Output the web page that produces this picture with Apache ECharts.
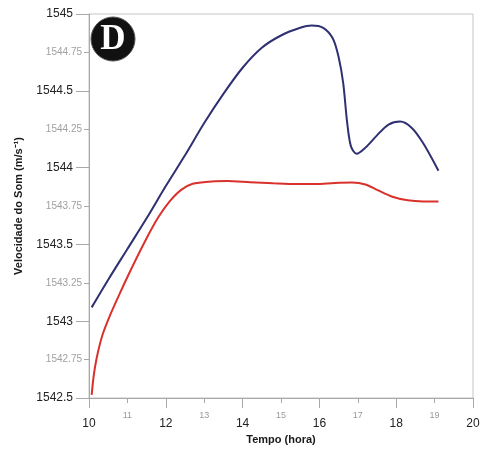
<!DOCTYPE html>
<html>
<head>
<meta charset="utf-8">
<script src="https://cdn.jsdelivr.net/npm/echarts@6/dist/echarts.min.js"></script>
<style>html,body{margin:0;padding:0;background:#fff}#c{width:495px;height:453px}</style>
</head>
<body>
<div id="c"></div>
<script>
const blueHours = [10.07, 10.5, 11, 11.5, 12, 12.5, 13, 13.5, 14, 14.5, 15, 15.5, 15.8, 16.1, 16.35, 16.5, 16.62, 16.72, 16.82, 16.97, 17.2, 17.5, 17.8, 18.1, 18.4, 18.7, 19.1];
const blueValues = [1543.09, 1543.27, 1543.47, 1543.67, 1543.88, 1544.08, 1544.29, 1544.48, 1544.65, 1544.78, 1544.86, 1544.91, 1544.925, 1544.91, 1544.84, 1544.72, 1544.55, 1544.30, 1544.14, 1544.09, 1544.13, 1544.21, 1544.28, 1544.30, 1544.26, 1544.16, 1543.98];
const redHours = [10.07, 10.12, 10.2, 10.35, 10.55, 10.8, 11.1, 11.5, 11.8, 12.1, 12.4, 12.7, 13.2, 13.6, 14.2, 14.8, 15.4, 15.9, 16.4, 16.85, 17.2, 17.5, 17.9, 18.3, 18.7, 19.1];
const redValues = [1542.52, 1542.64, 1542.76, 1542.91, 1543.04, 1543.18, 1543.34, 1543.54, 1543.675, 1543.78, 1543.855, 1543.895, 1543.91, 1543.913, 1543.905, 1543.898, 1543.893, 1543.893, 1543.90, 1543.903, 1543.89, 1543.855, 1543.81, 1543.787, 1543.78, 1543.78];
const xMajorTicks = [10, 12, 14, 16, 18, 20];
const xMinorTicks = [11, 13, 15, 17, 19];
const yMajorTicks = [1542.5, 1543, 1543.5, 1544, 1544.5, 1545];
const yMinorTicks = [1542.75, 1543.25, 1543.75, 1544.25, 1544.75];
const xTitle = 'Tempo (hora)';
const yTitle = 'Velocidade do Som (m/s\u207B\u00B9)';
const panelLabel = 'D';

const pair = (xs, ys) => xs.map((x, i) => [x, ys[i]]);
const near = (arr, v) => arr.some(a => Math.abs(a - v) < 1e-6);
const font = 'Liberation Sans';
const axisLineGray = '#a8a8a8';

const chart = echarts.init(document.getElementById('c'), null, {renderer: 'canvas'});
chart.setOption({
  backgroundColor: '#fff',
  animation: false,
  grid: {left: 89, top: 14, right: 22, bottom: 55, show: true, borderColor: '#c4c4c4', borderWidth: 1},
  xAxis: [
    {
      type: 'value', min: 10, max: 20, interval: 2, position: 'bottom',
      name: xTitle, nameLocation: 'middle', nameGap: 27,
      nameTextStyle: {fontFamily: font, fontSize: 11, fontWeight: 'bold', color: '#1a1a1a'},
      axisLine: {show: true, lineStyle: {color: axisLineGray, width: 1}},
      axisTick: {show: true, length: 10, lineStyle: {color: axisLineGray}},
      axisLabel: {margin: 20, fontFamily: font, fontSize: 12, color: '#222',
        formatter: v => near(xMajorTicks, v) ? String(v) : ''},
      splitLine: {show: false}
    },
    {
      type: 'value', min: 10, max: 20, interval: 1, position: 'bottom', gridIndex: 0,
      axisLine: {show: false},
      axisTick: {show: true, length: 5, lineStyle: {color: axisLineGray}},
      axisLabel: {margin: 13, fontFamily: font, fontSize: 9, color: '#9a9a9a',
        formatter: v => near(xMinorTicks, v) ? String(v) : ''},
      splitLine: {show: false}
    }
  ],
  yAxis: [
    {
      type: 'value', min: 1542.5, max: 1545, interval: 0.5, position: 'left',
      name: yTitle, nameLocation: 'middle', nameGap: 65, nameRotate: 90,
      nameTextStyle: {fontFamily: font, fontSize: 11, fontWeight: 'bold', color: '#1a1a1a'},
      axisLine: {show: true, lineStyle: {color: axisLineGray, width: 1}},
      axisTick: {show: true, length: 13, lineStyle: {color: axisLineGray}},
      axisLabel: {margin: 16, fontFamily: font, fontSize: 12, color: '#222',
        formatter: v => near(yMajorTicks, v) ? String(v) : ''},
      splitLine: {show: false}
    },
    {
      type: 'value', min: 1542.5, max: 1545, interval: 0.25, position: 'left', gridIndex: 0,
      axisLine: {show: false},
      axisTick: {show: true, length: 5, lineStyle: {color: axisLineGray}},
      axisLabel: {margin: 7, fontFamily: font, fontSize: 10, color: '#a0a0a0',
        formatter: v => near(yMinorTicks, v) ? String(v) : ''},
      splitLine: {show: false}
    }
  ],
  series: [
    {type: 'line', name: 'azul', xAxisIndex: 0, yAxisIndex: 0, data: pair(blueHours, blueValues),
     showSymbol: false, symbol: 'none', smooth: 0.3, lineStyle: {color: '#2f3072', width: 2}, z: 3},
    {type: 'line', name: 'vermelho', xAxisIndex: 0, yAxisIndex: 0, data: pair(redHours, redValues),
     showSymbol: false, symbol: 'none', smooth: 0.3, lineStyle: {color: '#d9322d', width: 2}, z: 3}
  ],
  graphic: [
    {type: 'circle', shape: {cx: 113, cy: 39, r: 22}, style: {fill: '#111', stroke: '#555', lineWidth: 1}, z: 10},
    {type: 'text', x: 113, y: 40, z: 11,
     style: {text: panelLabel, fill: '#fff', font: 'bold 35px "Liberation Serif"', align: 'center', verticalAlign: 'middle'}}
  ]
});
</script>
</body>
</html>
